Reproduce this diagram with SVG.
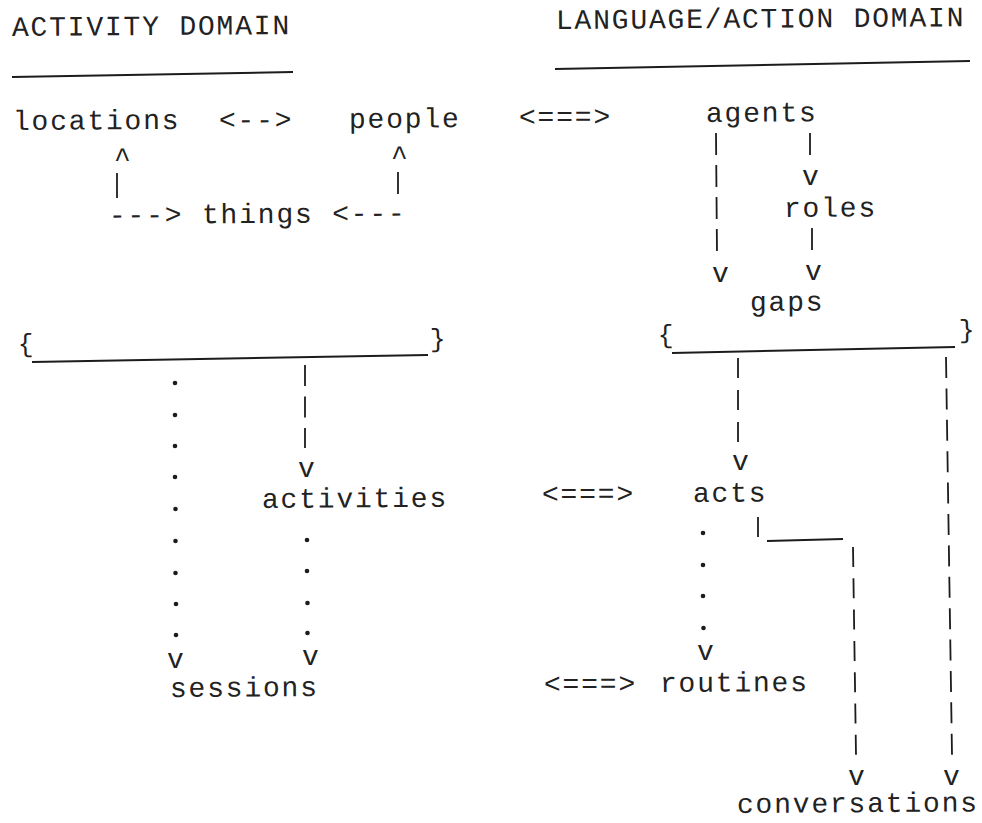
<svg xmlns="http://www.w3.org/2000/svg" width="982" height="823" viewBox="0 0 982 823">
  <style>
    text { font-family: "Liberation Mono", "Courier New", monospace; font-size: 28px; letter-spacing: 1.8px; fill: #222222; }
    .brace { font-size: 26px; letter-spacing: 0; }
    .rule { stroke: #1c1c1c; stroke-width: 2; fill: none; }
    .bar { stroke: #1c1c1c; stroke-width: 1.8; fill: none; }
    .dot { fill: #1c1c1c; }
  </style>
  <rect width="982" height="823" fill="#ffffff"/>

  <!-- column headings -->
  <g id="heading-activity">
    <text x="12" y="36" transform="rotate(-0.4 12 36)">ACTIVITY DOMAIN</text>
    <line class="rule" x1="12" y1="77" x2="293" y2="72"/>
  </g>
  <g id="heading-language">
    <text x="556" y="29" transform="rotate(-0.4 556 29)">LANGUAGE/ACTION DOMAIN</text>
    <line class="rule" x1="555" y1="69" x2="970" y2="61"/>
  </g>

  <!-- nodes -->
  <g id="locations"><text x="13" y="130" transform="rotate(-0.4 13 130)">locations</text></g>
  <g id="people"><text x="349" y="128" transform="rotate(-0.4 349 128)">people</text></g>
  <g id="things"><text x="109" y="224" transform="rotate(-0.4 109 224)">---&gt; things &lt;---</text></g>
  <g id="agents"><text x="706" y="122" transform="rotate(-0.4 706 122)">agents</text></g>
  <g id="roles"><text x="784" y="217" transform="rotate(-0.4 784 217)">roles</text></g>
  <g id="gaps"><text x="750" y="311" transform="rotate(-0.4 750 311)">gaps</text></g>
  <g id="activities"><text x="262" y="508" transform="rotate(-0.4 262 508)">activities</text></g>
  <g id="sessions"><text x="170" y="697" transform="rotate(-0.4 170 697)">sessions</text></g>
  <g id="acts"><text x="693" y="502" transform="rotate(-0.4 693 502)">acts</text></g>
  <g id="routines"><text x="660" y="692" transform="rotate(-0.4 660 692)">routines</text></g>
  <g id="conversations"><text x="737" y="813" transform="rotate(-0.4 737 813)">conversations</text></g>

  <!-- brace groupings -->
  <g id="group-activity">
    <text class="brace" x="18" y="352" transform="rotate(-1 18 352)">{</text>
    <line class="rule" x1="32" y1="362" x2="428" y2="355"/>
    <text class="brace" x="430" y="347" transform="rotate(-1 430 347)">}</text>
  </g>
  <g id="group-language">
    <text class="brace" x="658" y="343" transform="rotate(-1 658 343)">{</text>
    <line class="rule" x1="672" y1="353" x2="955" y2="347"/>
    <text class="brace" x="959" y="338" transform="rotate(-1 959 338)">}</text>
  </g>

  <!-- connectors -->
  <g id="connectors">
    <!-- equivalence arrows between domains -->
    <text x="219" y="129" transform="rotate(-0.4 219 129)">&lt;--&gt;</text>
    <text x="519" y="126" transform="rotate(-0.4 519 126)">&lt;===&gt;</text>
    <text x="542" y="503" transform="rotate(-0.4 542 503)">&lt;===&gt;</text>
    <text x="544" y="693" transform="rotate(-0.4 544 693)">&lt;===&gt;</text>

    <!-- things -> locations / people -->
    <text x="114" y="167">^</text>
    <line class="bar" x1="117" y1="173" x2="117" y2="198"/>
    <text x="391" y="165">^</text>
    <line class="bar" x1="398" y1="172" x2="398" y2="194"/>

    <!-- agents -> gaps, agents -> roles -> gaps -->
    <line class="bar" x1="716" y1="133" x2="717" y2="253" stroke-dasharray="22 10"/>
    <line class="bar" x1="810" y1="133" x2="810" y2="155"/>
    <text x="802" y="185">v</text>
    <line class="bar" x1="812" y1="228" x2="812" y2="250"/>
    <text x="712" y="282">v</text>
    <text x="805" y="280">v</text>

    <!-- activity group -> activities, sessions -->
    <line class="bar" x1="305" y1="365" x2="305" y2="448" stroke-dasharray="21 10.5"/>
    <text x="298" y="477">v</text>
    <g class="dot">
      <circle cx="175" cy="383" r="2.3"/>
      <circle cx="175" cy="415" r="2.3"/>
      <circle cx="175" cy="446" r="2.3"/>
      <circle cx="175" cy="477" r="2.3"/>
      <circle cx="175.5" cy="509" r="2.3"/>
      <circle cx="175.5" cy="541" r="2.3"/>
      <circle cx="175.5" cy="573" r="2.3"/>
      <circle cx="176" cy="604" r="2.3"/>
      <circle cx="176" cy="635" r="2.3"/>
      <circle cx="307" cy="540" r="2.3"/>
      <circle cx="307" cy="571" r="2.3"/>
      <circle cx="307.5" cy="603" r="2.3"/>
      <circle cx="307.5" cy="633" r="2.3"/>
    </g>
    <text x="167" y="668">v</text>
    <text x="302" y="665">v</text>

    <!-- language group -> acts, conversations -->
    <line class="bar" x1="738" y1="358" x2="738" y2="442" stroke-dasharray="20 12"/>
    <text x="732" y="470">v</text>
    <line class="bar" x1="946" y1="357" x2="952" y2="755" stroke-dasharray="21 10.4"/>
    <text x="943" y="785">v</text>

    <!-- acts -> routines, acts -> conversations -->
    <g class="dot">
      <circle cx="703" cy="533" r="2.3"/>
      <circle cx="703" cy="565" r="2.3"/>
      <circle cx="703" cy="596" r="2.3"/>
      <circle cx="703.5" cy="628" r="2.3"/>
    </g>
    <text x="697" y="660">v</text>
    <line class="bar" x1="758" y1="517" x2="758" y2="537"/>
    <line class="rule" x1="767" y1="541" x2="843" y2="539"/>
    <line class="bar" x1="853" y1="547" x2="856" y2="755" stroke-dasharray="20 11.3"/>
    <text x="848" y="785">v</text>
  </g>
</svg>
